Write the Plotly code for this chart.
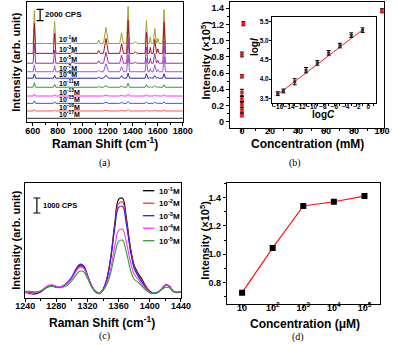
import plotly.graph_objects as go

W, H = 397, 345
FONT = "Liberation Sans, Arial, sans-serif"
SERIF = "Liberation Serif, Times New Roman, serif"

# ---------- (a) SERS spectra at different concentrations (offset stack, CPS) ----------
peak_pos_a = [612, 774, 920, 1127, 1185, 1310, 1362, 1420, 1509, 1540, 1575, 1600, 1650]
peak_hw_a = [10, 10, 15, 12, 20, 15, 12, 15, 11, 8, 12, 10, 11]
labels_a = ["10<sup>-1</sup>M", "10<sup>-3</sup>M", "10<sup>-5</sup>M", "10<sup>-7</sup>M",
            "10<sup>-9</sup>M", "10<sup>-11</sup>M", "10<sup>-13</sup>M", "10<sup>-15</sup>M",
            "10<sup>-16</sup>M", "10<sup>-17</sup>M"]
colors_a = ["#a0a028", "#9c1c1c", "#a030a0", "#a050f0", "#2a2aa0",
            "#2ca02c", "#ff33ff", "#3355ff", "#ff5050", "#333333"]
offsets_a = [13900, 12150, 10400, 8900, 7750, 6150, 4600, 3300, 1950, 650]
heights_a = [
    [5840, 3890, 350, 620, 2830, 1880, 6550, 350, 4070, 1170, 2650, 890, 6020],
    [5310, 3540, 270, 530, 2650, 1770, 5840, 270, 3720, 1060, 2480, 800, 5490],
    [3540, 2300, 180, 440, 1950, 1420, 4430, 180, 2830, 890, 1770, 530, 3890],
    [1240, 1060, 90, 270, 1420, 890, 3010, 90, 2300, 530, 1240, 350, 2650],
    [760, 530, 50, 180, 530, 440, 890, 50, 800, 180, 440, 140, 800],
    [810, 530, 50, 140, 270, 210, 710, 50, 440, 110, 270, 90, 440],
    [350, 270, 35, 70, 180, 140, 350, 35, 270, 70, 180, 50, 270],
    [440, 270, 35, 70, 180, 140, 350, 35, 270, 70, 180, 50, 270],
    [270, 180, 20, 50, 140, 110, 270, 20, 180, 50, 140, 35, 180],
    [110, 90, 10, 20, 50, 40, 110, 10, 70, 20, 50, 15, 70],
]

# ---------- (b) intensity vs concentration, with log-log inset ----------
conc_b = [100, 1, 0.01, 1e-4, 1e-6, 1e-8, 1e-10, 1e-12, 1e-13]
inten_b = [1.37, 1.21, 0.83, 0.56, 0.36, 0.28, 0.21, 0.14, 0.08]
err_b = [0.025, 0.025, 0.03, 0.02, 0.04, 0.03, 0.03, 0.03, 0.02]
logc_in = [-16, -15, -13, -11, -9, -7, -5, -3, -1]
logi_in = [3.62, 3.69, 3.93, 4.23, 4.42, 4.68, 4.87, 5.14, 5.27]
logi_err = [0.05, 0.05, 0.08, 0.07, 0.06, 0.06, 0.06, 0.06, 0.06]
fit_x = [-16, -1]
fit_y = [3.60, 5.28]

# ---------- (c) zoomed spectra 1240-1440 cm-1 (CPS) ----------
shift_c = list(range(1240, 1445, 5))
labels_c = ["10<sup>-1</sup>M", "10<sup>-2</sup>M", "10<sup>-3</sup>M", "10<sup>-4</sup>M", "10<sup>-5</sup>M"]
colors_c = ["#000000", "#ff3030", "#2020ff", "#ff30ff", "#30a030"]
spec_c = [
    [430, 430, 370, 330, 430, 630, 800, 830, 730, 730, 870, 1070, 1400, 1870, 2200, 2130, 1530, 870, 470, 330,
     600, 1330, 2800, 5000, 6600, 6670, 5330, 3470, 2200, 1670, 1270, 800, 470, 370, 400, 600, 870, 800, 470, 400, 430],
    [430, 430, 400, 370, 470, 670, 830, 870, 770, 730, 870, 1070, 1370, 1800, 2130, 2070, 1500, 870, 470, 330,
     600, 1330, 2730, 4800, 6330, 6400, 5130, 3330, 2070, 1530, 1130, 730, 430, 330, 400, 630, 900, 830, 500, 400, 430],
    [370, 330, 270, 300, 430, 630, 770, 800, 730, 730, 870, 1100, 1430, 1930, 2270, 2170, 1530, 830, 430, 300,
     570, 1270, 2670, 4670, 6070, 6130, 4930, 3200, 2000, 1470, 1070, 670, 370, 300, 370, 600, 870, 800, 470, 370, 400],
    [400, 430, 430, 400, 500, 700, 870, 900, 800, 770, 870, 1030, 1330, 1770, 2070, 2000, 1470, 830, 430, 330,
     530, 1070, 2000, 3470, 4530, 4600, 3730, 2470, 1600, 1270, 930, 630, 400, 330, 400, 630, 870, 800, 500, 400, 430],
    [470, 470, 430, 430, 500, 630, 770, 800, 730, 700, 770, 900, 1170, 1530, 1800, 1770, 1330, 800, 470, 370,
     530, 930, 1730, 2930, 3800, 3870, 3070, 1930, 1270, 1070, 800, 530, 400, 370, 400, 570, 730, 700, 470, 400, 430],
]

# ---------- (d) intensity vs concentration (log x) ----------
conc_d = [10, 100, 1000, 10000, 100000]
inten_d = [0.73, 1.045, 1.34, 1.37, 1.41]


def px(x):
    return x / W


def py(y):
    return 1 - y / H


fig = go.Figure()

# (a) spectra
for lab, col, off, hts in zip(labels_a, colors_a, offsets_a, heights_a):
    xs, ys = [550], [off]
    for p, hw, h in zip(peak_pos_a, peak_hw_a, hts):
        xs += [p - hw, p, p + hw]
        ys += [off, off + h, off]
    xs.append(1800)
    ys.append(off)
    fig.add_trace(go.Scatter(x=xs, y=ys, mode="lines", line=dict(color=col, width=1),
                             xaxis="x", yaxis="y", hoverinfo="skip"))
    fig.add_annotation(x=790, y=off, xref="x", yref="y", text="<b>%s</b>" % lab, showarrow=False,
                       xanchor="left", yanchor="bottom", yshift=-2,
                       font=dict(family=FONT, size=7, color="black"))

# scale bar (a): 2000 CPS
fig.add_trace(go.Scatter(x=[658, 658], y=[17950, 19950], mode="lines+markers",
                         line=dict(color="black", width=1.2),
                         marker=dict(symbol="line-ew", size=5, line=dict(width=1.2, color="black")),
                         xaxis="x", yaxis="y", hoverinfo="skip"))

# (b) main
fig.add_trace(go.Scatter(x=conc_b, y=inten_b, mode="markers",
                         marker=dict(symbol="square", size=3.5, color="#ff1010"),
                         error_y=dict(type="data", array=err_b, color="black", thickness=1, width=2),
                         xaxis="x2", yaxis="y2"))
# (b) inset
fig.add_trace(go.Scatter(x=fit_x, y=fit_y, mode="lines", line=dict(color="#ff2020", width=1),
                         xaxis="x3", yaxis="y3"))
fig.add_trace(go.Scatter(x=logc_in, y=logi_in, mode="markers",
                         marker=dict(symbol="square", size=3, color="#333333"),
                         error_y=dict(type="data", array=logi_err, color="black", thickness=1, width=2),
                         xaxis="x3", yaxis="y3"))

# (c) spectra
for lab, col, ys in zip(labels_c, colors_c, spec_c):
    fig.add_trace(go.Scatter(x=shift_c, y=ys, mode="lines", line=dict(color=col, width=1.1, shape="spline"),
                             xaxis="x4", yaxis="y4"))
fig.add_trace(go.Scatter(x=[1255, 1255], y=[5690, 6690], mode="lines+markers",
                         line=dict(color="black", width=1.2),
                         marker=dict(symbol="line-ew", size=5, line=dict(width=1.2, color="black")),
                         xaxis="x4", yaxis="y4", hoverinfo="skip"))

# (d)
fig.add_trace(go.Scatter(x=conc_d, y=inten_d, mode="lines+markers",
                         line=dict(color="#ff1010", width=1.2),
                         marker=dict(symbol="square", size=6, color="black"),
                         xaxis="x5", yaxis="y5"))

base = dict(showline=True, linecolor="black", linewidth=1.2, mirror=True, ticks="outside",
            ticklen=3, tickwidth=1, tickcolor="black", showgrid=False, zeroline=False,
            tickfont=dict(family=FONT, size=9, color="black", weight="bold"))


def ax(**kw):
    d = dict(base)
    d.update(kw)
    return d


small = dict(family=FONT, size=6.5, color="black", weight="bold")

fig.update_layout(
    width=W, height=H, margin=dict(l=0, r=0, t=0, b=0),
    paper_bgcolor="white", plot_bgcolor="white", showlegend=False,
    xaxis=ax(domain=[px(17.5), px(182)], range=[550, 1800], tickvals=[600, 800, 1000, 1200, 1400, 1600, 1800],
             ticklabelstandoff=-3,
             minor=dict(dtick=100, ticks="outside", ticklen=2, tickcolor="black"), anchor="y"),
    yaxis=ax(domain=[py(122), py(2)], range=[0, 21240], showticklabels=False, ticks="", anchor="x"),
    xaxis2=ax(domain=[px(231.7), px(394)], range=[-8.5, 101.6], tickvals=[0, 20, 40, 60, 80, 100],
              ticklabelstandoff=-9,
              minor=dict(dtick=10, ticks="outside", ticklen=2, tickcolor="black"), anchor="y2"),
    yaxis2=ax(domain=[py(128), py(2)], range=[-0.078, 1.478], tickvals=[0, 0.2, 0.4, 0.6, 0.8, 1.0, 1.2, 1.4],
              ticktext=["0", "0.2", "0.4", "0.6", "0.8", "1.0", "1.2", "1.4"],
              minor=dict(dtick=0.1, ticks="outside", ticklen=2, tickcolor="black"), anchor="x2"),
    xaxis3=ax(domain=[px(276), px(385)], range=[-17, 1.3], tickvals=list(range(-16, 1, 2)),
              tickfont=small, ticklen=2, tickangle=0, ticklabelstandoff=-5,
              minor=dict(dtick=1, ticks="outside", ticklen=1.5, tickcolor="black"), anchor="y3"),
    yaxis3=ax(domain=[py(103.3), py(16.7)], range=[3.37, 5.62], tickvals=[3.5, 4.0, 4.5, 5.0, 5.5],
              tickformat=".1f", ticklen=2, tickfont=small, ticklabelstandoff=-1, anchor="x3"),
    xaxis4=ax(domain=[px(16), px(180)], range=[1240, 1440], tickvals=list(range(1240, 1441, 40)),
              ticklabelstandoff=-4,
              minor=dict(dtick=20, ticks="outside", ticklen=2, tickcolor="black"), anchor="y4"),
    yaxis4=ax(domain=[py(298.3), py(183.3)], range=[0, 7670], showticklabels=False, ticks="", anchor="x4"),
    xaxis5=ax(domain=[px(228.3), px(390)], type="log", range=[0.5, 5.52],
              tickvals=conc_d, ticktext=["10", "10<sup>2</sup>", "10<sup>3</sup>", "10<sup>4</sup>", "10<sup>5</sup>"],
              ticklabelstandoff=-8, anchor="y5"),
    yaxis5=ax(domain=[py(304), py(183.3)], range=[0.65, 1.5], tickvals=[0.8, 1.0, 1.2, 1.4], tickformat=".1f",
              minor=dict(dtick=0.1, ticks="outside", ticklen=2, tickcolor="black"), anchor="x5"),
)


def note(text, x, y, size, angle=0, xanchor="center", family=FONT):
    fig.add_annotation(x=px(x), y=py(y), xref="paper", yref="paper", text=text, showarrow=False,
                       textangle=angle, xanchor=xanchor, yanchor="middle",
                       font=dict(family=family, size=size, color="black"))


# axis titles and captions
note("<b>Intensity (arb. unit)</b>", 6, 62, 11, -90)
note("<b>Raman Shift (cm<sup>-1</sup>)</b>", 100, 143, 12)
note("(a)", 100, 163, 10, family=SERIF)
note("<b>2000 CPS</b>", 35, 14, 8, xanchor="left")

note("<b>Intensity (×10<sup>5</sup>)</b>", 206, 60, 11, -90)
note("<b>Concentration (mM)</b>", 313, 144, 12)
note("(b)", 300, 163, 10, family=SERIF)
note("<b>log<i>I</i></b>", 257, 47, 10, -90)
note("<b>log<i>C</i></b>", 330, 114.5, 10)

note("<b>Intensity (arb. unit)</b>", 6, 240, 11, -90)
note("<b>Raman Shift (cm<sup>-1</sup>)</b>", 97, 322, 12)
note("(c)", 100, 336, 10, family=SERIF)
note("<b>1000 CPS</b>", 33, 205.7, 7.5, xanchor="left")

note("<b>Intensity (×10<sup>5</sup>)</b>", 205, 240, 11, -90)
note("<b>Concentration (μM)</b>", 311, 323.5, 12)
note("(d)", 303, 336.5, 10, family=SERIF)

# legend of (c)
for i, (lab, col) in enumerate(zip(labels_c, colors_c)):
    yy = 190.7 + i * 12.5
    fig.add_shape(type="line", xref="paper", yref="paper", x0=px(140), x1=px(152), y0=py(yy), y1=py(yy),
                  line=dict(color=col, width=1.3))
    note("<b>%s</b>" % lab, 155, yy, 8, xanchor="left")

# page body has a default 8px margin; drop it so the figure fills the window
fig.write_html("out.html", config={"displayModeBar": False},
               post_script="document.body.style.margin='0px';")
